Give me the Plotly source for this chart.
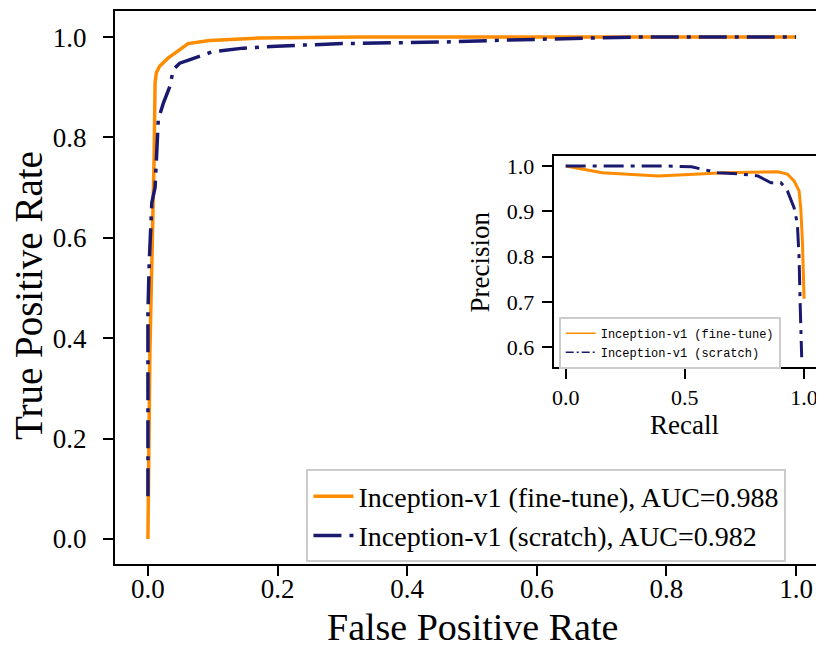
import plotly.graph_objects as go

# ROC data (main axes)
roc_ft_fpr = [0.0, 0.003, 0.0097, 0.011, 0.011, 0.013, 0.018, 0.031, 0.044, 0.062, 0.095, 0.172, 0.326, 0.6, 1.0]
roc_ft_tpr = [0.0, 0.37, 0.77, 0.84, 0.909, 0.929, 0.942, 0.958, 0.971, 0.987, 0.993, 0.998, 1.0, 1.0, 1.0]

roc_sc_fpr = [0.0, 0.0, 0.002, 0.006, 0.011, 0.013, 0.016, 0.024, 0.034, 0.039, 0.049, 0.065, 0.080, 0.10,
              0.147, 0.198, 0.30, 0.45, 0.55, 0.62, 0.71, 0.75, 1.0]
roc_sc_tpr = [0.085, 0.45, 0.55, 0.67, 0.70, 0.77, 0.836, 0.869, 0.902, 0.935, 0.948, 0.955, 0.962, 0.971,
              0.978, 0.982, 0.987, 0.99, 0.994, 0.996, 0.999, 1.0, 1.0]

# Precision-recall data (inset)
pr_ft_recall = [0.0, 0.153, 0.389, 0.528, 0.667, 0.889, 0.93, 0.958, 0.979, 0.986, 0.993, 1.0]
pr_ft_precision = [1.0, 0.985, 0.978, 0.982, 0.985, 0.987, 0.982, 0.967, 0.945, 0.908, 0.835, 0.707]

pr_sc_recall = [0.0, 0.417, 0.528, 0.639, 0.736, 0.806, 0.861, 0.903, 0.93, 0.958, 0.972, 0.979, 0.984, 0.988, 0.99]
pr_sc_precision = [1.0, 1.0, 0.998, 0.985, 0.982, 0.978, 0.963, 0.963, 0.945, 0.908, 0.872, 0.798, 0.688, 0.60, 0.578]

main_labels = ["Inception-v1 (fine-tune), AUC=0.988", "Inception-v1 (scratch), AUC=0.982"]
inset_labels = ["Inception-v1 (fine-tune)", "Inception-v1 (scratch)"]

main_ticks = [0.0, 0.2, 0.4, 0.6, 0.8, 1.0]
inset_xticks = [0.0, 0.5, 1.0]
inset_yticks = [0.6, 0.7, 0.8, 0.9, 1.0]

ORANGE = "#ff8c00"
NAVY = "#191970"
SERIF = "Liberation Serif"

fig = go.Figure()

fig.add_trace(go.Scatter(x=roc_ft_fpr, y=roc_ft_tpr, mode="lines", name=main_labels[0],
                         line=dict(color=ORANGE, width=3.5), legend="legend"))
fig.add_trace(go.Scatter(x=roc_sc_fpr, y=roc_sc_tpr, mode="lines", name=main_labels[1],
                         line=dict(color=NAVY, width=3.5, dash="28px,8px,4px,8px"), legend="legend"))

fig.add_trace(go.Scatter(x=pr_ft_recall, y=pr_ft_precision, mode="lines", showlegend=False,
                         line=dict(color=ORANGE, width=3), xaxis="x2", yaxis="y2"))
fig.add_trace(go.Scatter(x=pr_sc_recall, y=pr_sc_precision, mode="lines", showlegend=False,
                         line=dict(color=NAVY, width=3, dash="20px,7px,4px,7px"), xaxis="x2", yaxis="y2"))

# inset legend entries (thin lines)
fig.add_trace(go.Scatter(x=[None], y=[None], mode="lines", name=inset_labels[0],
                         line=dict(color=ORANGE, width=1.5), xaxis="x2", yaxis="y2", legend="legend2"))
fig.add_trace(go.Scatter(x=[None], y=[None], mode="lines", name=inset_labels[1],
                         line=dict(color=NAVY, width=1.5, dash="8px,3px,2px,3px"), xaxis="x2", yaxis="y2",
                         legend="legend2"))

axis_common = dict(showgrid=False, zeroline=False, showline=True, linecolor="black", linewidth=2,
                   ticks="outside", ticklen=10, tickwidth=2, tickcolor="black")

fig.update_layout(
    width=816, height=642,
    margin=dict(l=107, r=0, t=1, b=86),
    paper_bgcolor="white", plot_bgcolor="white",
    font=dict(family=SERIF, color="black"),
    xaxis=dict(range=[-0.0508, 1.04], tickvals=main_ticks, ticktext=[f"{v:.1f}" for v in main_ticks],
               mirror=True, tickfont=dict(size=27), ticklabelstandoff=-10, domain=[0, 1], **axis_common),
    yaxis=dict(range=[-0.05, 1.052], tickvals=main_ticks, ticktext=[f"{v:.1f}" for v in main_ticks],
               mirror=False, tickfont=dict(size=27), ticklabelstandoff=11, domain=[0, 1], **axis_common),
    xaxis2=dict(range=[-0.05, 1.05], tickvals=inset_xticks, ticktext=[f"{v:.1f}" for v in inset_xticks],
                mirror=True, tickfont=dict(size=22), domain=[0.6206, 0.9915], anchor="y2", **axis_common),
    yaxis2=dict(range=[0.557, 1.021], tickvals=inset_yticks, ticktext=[f"{v:.1f}" for v in inset_yticks],
                mirror=True, tickfont=dict(size=22), ticklabelstandoff=3, domain=[0.3568, 0.737], anchor="x2",
                **axis_common),
    legend=dict(x=0.2708, y=0.171, xanchor="left", yanchor="top", font=dict(size=28, family=SERIF),
                bgcolor="rgba(255,255,255,0.85)", bordercolor="#cccccc", borderwidth=2,
                tracegroupgap=0, itemwidth=40),
    legend2=dict(x=0.6276, y=0.447, xanchor="left", yanchor="top",
                 font=dict(size=12, family="Liberation Mono"),
                 bgcolor="rgba(255,255,255,0.85)", bordercolor="#cccccc", borderwidth=2,
                 tracegroupgap=0, itemwidth=30),
    annotations=[
        dict(text="False Positive Rate", xref="paper", yref="paper", x=0.505, y=-0.155,
             xanchor="center", yanchor="bottom", showarrow=False, font=dict(size=38, family=SERIF)),
        dict(text="True Positive Rate", xref="paper", yref="paper", x=-0.1213, y=0.485,
             xanchor="center", yanchor="middle", textangle=-90, showarrow=False, font=dict(size=39, family=SERIF)),
        dict(text="Precision", xref="paper", yref="paper", x=0.517, y=0.546,
             xanchor="center", yanchor="middle", textangle=-90, showarrow=False, font=dict(size=27, family=SERIF)),
        dict(text="Recall", xref="paper", yref="paper", x=0.805, y=0.252,
             xanchor="center", yanchor="middle", showarrow=False, font=dict(size=27, family=SERIF)),
    ],
)

fig.write_html("out.html")
